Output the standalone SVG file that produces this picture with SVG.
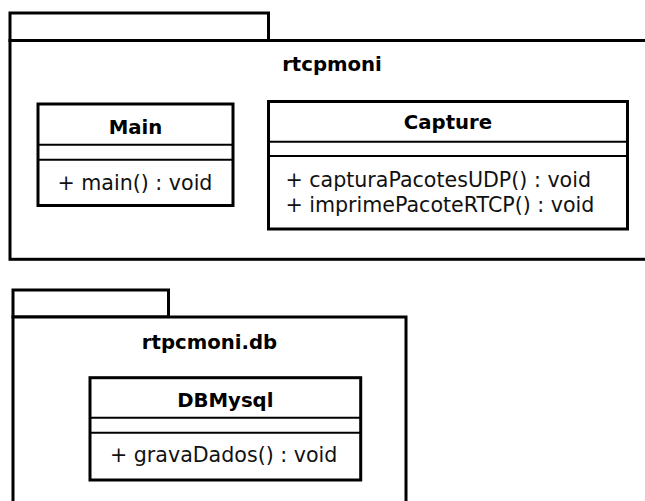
<svg xmlns="http://www.w3.org/2000/svg" width="645" height="501" viewBox="0 0 645 501">
  <style>
    .frame { fill: #ffffff; stroke: #000000; stroke-width: 3; }
    .sep { stroke: #000000; stroke-width: 2; fill: none; }
    .title { font-family: "DejaVu Sans", Verdana, sans-serif; font-weight: bold; font-size: 19.7px; fill: #000000; text-anchor: middle; }
    .op { font-family: "DejaVu Sans", Verdana, sans-serif; font-size: 20.6px; fill: #111111; }
  </style>
  <rect width="645" height="501" fill="#ffffff"/>

  <!-- package rtcpmoni -->
  <g id="pkg-rtcpmoni">
    <rect class="frame" x="10" y="13" width="258.5" height="27.5"/>
    <rect class="frame" x="10" y="40.5" width="660" height="218.8"/>
    <text class="title" x="332" y="70.7">rtcpmoni</text>
  </g>

  <!-- class Main -->
  <g id="cls-main">
    <rect class="frame" x="38" y="104" width="195" height="101.5"/>
    <line class="sep" x1="38" y1="144.7" x2="233" y2="144.7"/>
    <line class="sep" x1="38" y1="159.7" x2="233" y2="159.7"/>
    <text class="title" x="135.5" y="133.5">Main</text>
    <text class="op" x="57.5" y="190">+ main() : void</text>
  </g>

  <!-- class Capture -->
  <g id="cls-capture">
    <rect class="frame" x="268.5" y="101.5" width="359" height="127.5"/>
    <line class="sep" x1="268.5" y1="141.7" x2="627.5" y2="141.7"/>
    <line class="sep" x1="268.5" y1="156" x2="627.5" y2="156"/>
    <text class="title" x="448" y="129">Capture</text>
    <text class="op" x="285.4" y="186.7">+ capturaPacotesUDP() : void</text>
    <text class="op" x="285.4" y="211.7">+ imprimePacoteRTCP() : void</text>
  </g>

  <!-- package rtpcmoni.db -->
  <g id="pkg-rtpcmoni-db">
    <rect class="frame" x="13" y="290" width="155.5" height="27"/>
    <rect class="frame" x="13" y="317" width="393" height="200"/>
    <text class="title" x="209.5" y="349">rtpcmoni.db</text>
  </g>

  <!-- class DBMysql -->
  <g id="cls-dbmysql">
    <rect class="frame" x="90" y="377.7" width="270.7" height="102.3"/>
    <line class="sep" x1="90" y1="417.7" x2="360.7" y2="417.7"/>
    <line class="sep" x1="90" y1="432.7" x2="360.7" y2="432.7"/>
    <text class="title" x="225.3" y="406.7">DBMysql</text>
    <text class="op" x="110" y="462">+ gravaDados() : void</text>
  </g>

  <!-- no connectors in this diagram -->
  <g id="connectors"/>
</svg>
